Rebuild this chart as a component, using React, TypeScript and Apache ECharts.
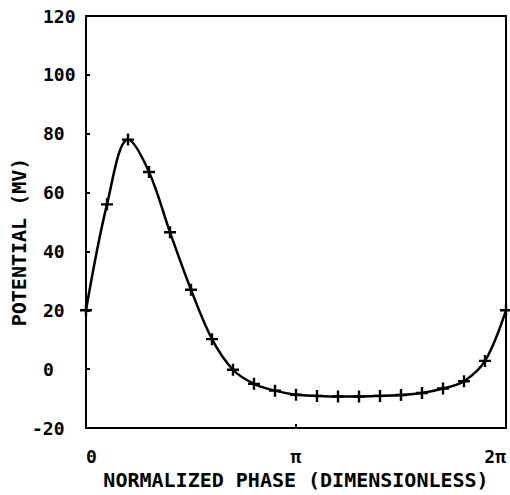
import React, { useEffect, useRef } from "react";
import * as echarts from "echarts";

// Phase in units of pi (0 .. 2pi), sampled where the reference has "+" markers
const PHASE = [0, 0.1, 0.2, 0.3, 0.4, 0.5, 0.6, 0.7, 0.8, 0.9, 1.0, 1.1, 1.2, 1.3, 1.4, 1.5, 1.6, 1.7, 1.8, 1.9, 2.0];
// Potential (mV)
const POTENTIAL = [20, 56, 78, 67, 46.5, 27, 10.2, -0.2, -5, -7.3, -8.7, -9.1, -9.3, -9.3, -9.1, -8.8, -8.1, -6.6, -4.1, 2.8, 20];
const X_TICK_LABELS = ["0", "π", "2π"];
const Y_TICKS = [-20, 0, 20, 40, 60, 80, 100, 120];
const X_TITLE = "NORMALIZED PHASE (DIMENSIONLESS)";
const Y_TITLE = "POTENTIAL (MV)";

const FONT = "DejaVu Sans Mono";
const PLUS = "path://M4,0h2v4h4v2h-4v4h-2v-4h-4v-2h4z";

export default function App() {
  const ref = useRef<HTMLDivElement>(null);
  useEffect(() => {
    if (!ref.current) return;
    const chart = echarts.init(ref.current, null, { renderer: "svg" });
    const pts = PHASE.map((p, i) => [p, POTENTIAL[i]]);
    const tickFont = { fontFamily: FONT, fontWeight: "bold" as const, fontSize: 18, color: "#000" };
    chart.setOption({
      animation: false,
      backgroundColor: "#fff",
      grid: {
        left: 86,
        top: 16,
        right: 4,
        bottom: 59,
        show: true,
        borderColor: "#000",
        borderWidth: 2,
        backgroundColor: "transparent",
      },
      xAxis: {
        type: "value",
        min: 0,
        max: 2,
        interval: 1,
        axisLine: { show: true, onZero: false, lineStyle: { color: "#000", width: 2 } },
        axisTick: { show: true, inside: true, length: 4, lineStyle: { color: "#000", width: 2 } },
        splitLine: { show: false },
        axisLabel: {
          ...tickFont,
          margin: 19,
          alignMinLabel: "left",
          alignMaxLabel: "right",
          formatter: (v: number) => X_TICK_LABELS[Math.round(v)],
        },
        name: X_TITLE,
        nameLocation: "middle",
        nameGap: 42,
        nameTextStyle: { color: "#000", fontFamily: FONT, fontWeight: "bold", fontSize: 20 },
      },
      yAxis: {
        type: "value",
        min: Y_TICKS[0],
        max: Y_TICKS[Y_TICKS.length - 1],
        interval: 20,
        axisLine: { show: true, lineStyle: { color: "#000", width: 2 } },
        axisTick: { show: true, inside: true, length: 4, lineStyle: { color: "#000", width: 2 } },
        splitLine: { show: false },
        axisLabel: {
          ...tickFont,
          align: "right",
          margin: 3,
          formatter: (v: number) => (v < 0 ? `{n|${v}}` : `{p|${v}}`),
          rich: {
            p: { ...tickFont, width: 40, align: "left" },
            n: { ...tickFont, width: 51, align: "left" },
          },
        },
      },
      graphic: [
        {
          type: "text",
          x: 19,
          y: 242,
          rotation: Math.PI / 2,
          style: {
            text: Y_TITLE,
            x: 0,
            y: 0,
            align: "center",
            verticalAlign: "middle",
            fill: "#000",
            font: `bold 20px "${FONT}"`,
          },
        },
      ],
      series: [
        {
          type: "line",
          data: pts,
          smooth: 0.35,
          showSymbol: true,
          symbol: PLUS,
          symbolSize: 12,
          lineStyle: { color: "#000", width: 2.5 },
          itemStyle: { color: "#000" },
          clip: false,
        },
      ],
    });
    return () => chart.dispose();
  }, []);
  return <div ref={ref} style={{ width: 510, height: 495, position: "absolute", left: 0, top: 0 }} />;
}
